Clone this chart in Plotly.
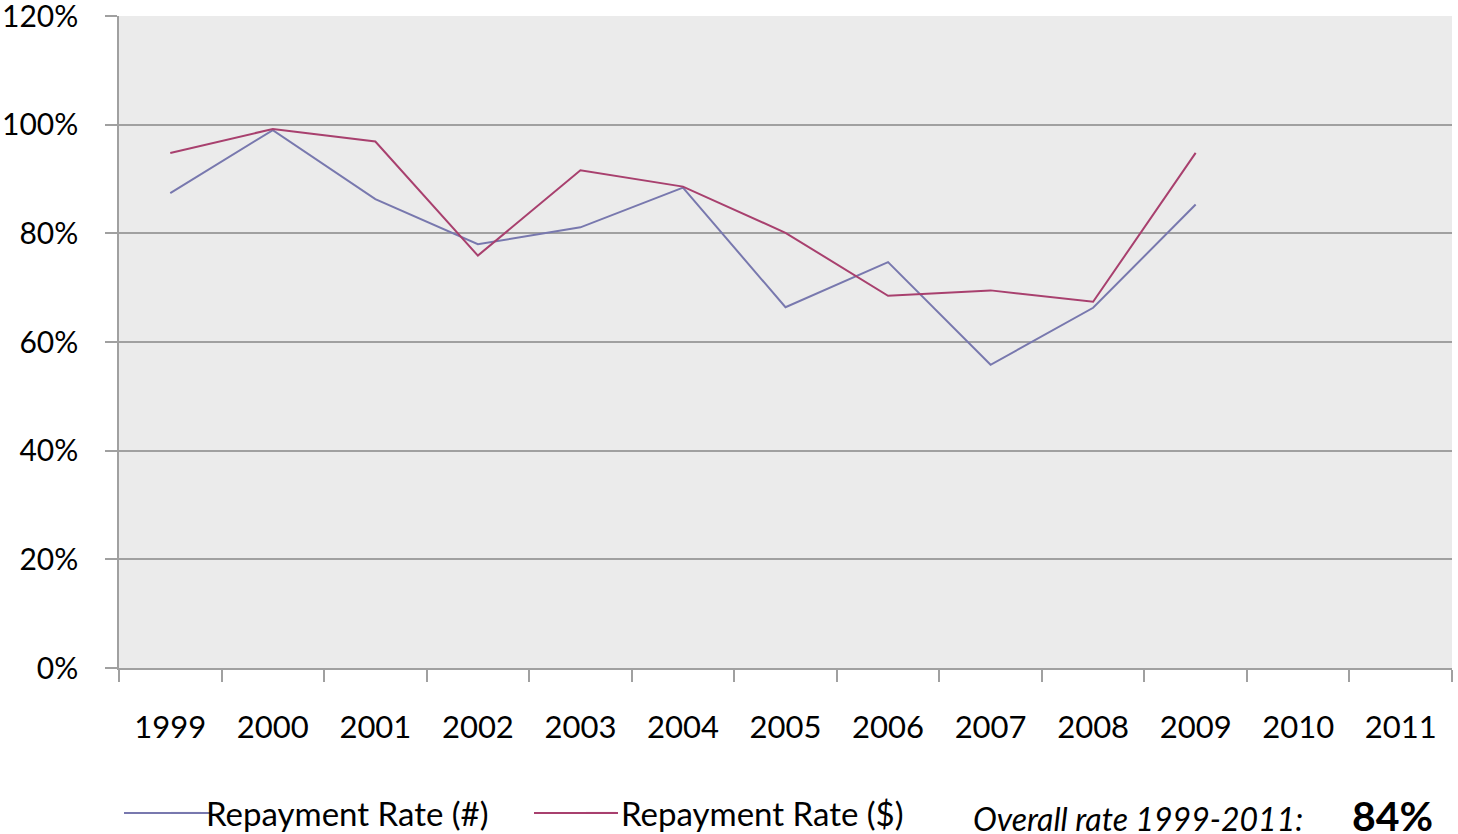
import plotly.graph_objects as go

years = ["1999", "2000", "2001", "2002", "2003", "2004", "2005",
         "2006", "2007", "2008", "2009", "2010", "2011"]
rate_count = [87.4, 99.0, 86.3, 78.0, 81.1, 88.4, 66.4, 74.7, 55.8, 66.3, 85.3, None, None]
rate_dollar = [94.8, 99.2, 96.9, 75.9, 91.6, 88.6, 80.1, 68.5, 69.5, 67.4, 94.8, None, None]
y_ticks = [0, 20, 40, 60, 80, 100, 120]
y_tick_labels = ["0%", "20%", "40%", "60%", "80%", "100%", "120%"]
overall_label = "Overall rate 1999-2011:"
overall_value = "84%"

FONT = "Lato"
W, H = 1458, 834
ML, MR, MT, MB = 119, 6, 16, 166
PW = W - ML - MR
PH = H - MT - MB
BLUE = "#7878AE"
RED = "#A8406E"
AXIS = "#A0A0A0"
LEG_Y = 813


def px_x(p):
    return (p - ML) / PW


def px_y(p):
    return (H - MB - p) / PH


fig = go.Figure()
fig.add_trace(go.Scatter(x=years, y=rate_count, mode="lines", name="Repayment Rate (#)",
                         line=dict(color=BLUE, width=2)))
fig.add_trace(go.Scatter(x=years, y=rate_dollar, mode="lines", name="Repayment Rate ($)",
                         line=dict(color=RED, width=2)))

fig.update_layout(
    width=W, height=H,
    margin=dict(l=ML, r=MR, t=MT, b=MB, autoexpand=False),
    paper_bgcolor="white",
    plot_bgcolor="#EBEBEB",
    font=dict(family=FONT, size=31, color="black"),
    showlegend=True,
    legend=dict(orientation="h", x=px_x(166), y=px_y(LEG_Y), xanchor="left", yanchor="middle",
                font=dict(size=33), entrywidth=370, entrywidthmode="pixels",
                bgcolor="rgba(0,0,0,0)"),
    xaxis=dict(type="category", categoryorder="array", categoryarray=years,
               range=[-0.5, 12.5], tickson="boundaries", ticks="outside", ticklen=12,
               tickcolor=AXIS, tickwidth=1.5, showline=True, linecolor=AXIS,
               linewidth=1.5, showgrid=False, zeroline=False, automargin=False,
               tickfont=dict(size=31), ticklabelstandoff=31, ticklabeloverflow="allow"),
    yaxis=dict(range=[0, 120], tickmode="array", tickvals=y_ticks, ticktext=y_tick_labels,
               showgrid=True, gridcolor=AXIS, gridwidth=1.5, showline=True, linecolor=AXIS,
               linewidth=1.5, ticks="outside", ticklen=12, tickcolor=AXIS, tickwidth=1.5,
               zeroline=False, automargin=False, tickfont=dict(size=30), ticklabelstandoff=21,
               ticklabeloverflow="allow"),
)

# longer legend keys, as in the reference
for x0, x1, col in [(124, 210, BLUE), (534, 618, RED)]:
    fig.add_shape(type="line", xref="paper", yref="paper", x0=px_x(x0), x1=px_x(x1),
                  y0=px_y(LEG_Y), y1=px_y(LEG_Y), line=dict(color=col, width=2))

fig.add_annotation(text="<i>" + overall_label + "</i>", xref="paper", yref="paper",
                   x=px_x(971), y=px_y(818), xanchor="left", yanchor="middle",
                   showarrow=False, font=dict(size=32, color="black", family=FONT))
fig.add_annotation(text="<b>" + overall_value + "</b>", xref="paper", yref="paper",
                   x=px_x(1350), y=px_y(815), xanchor="left", yanchor="middle",
                   showarrow=False, font=dict(size=41, color="black", family=FONT))

fig.write_html("out.html", config={"displayModeBar": False},
               post_script="document.body.style.margin='0';document.body.style.overflow='hidden';")
